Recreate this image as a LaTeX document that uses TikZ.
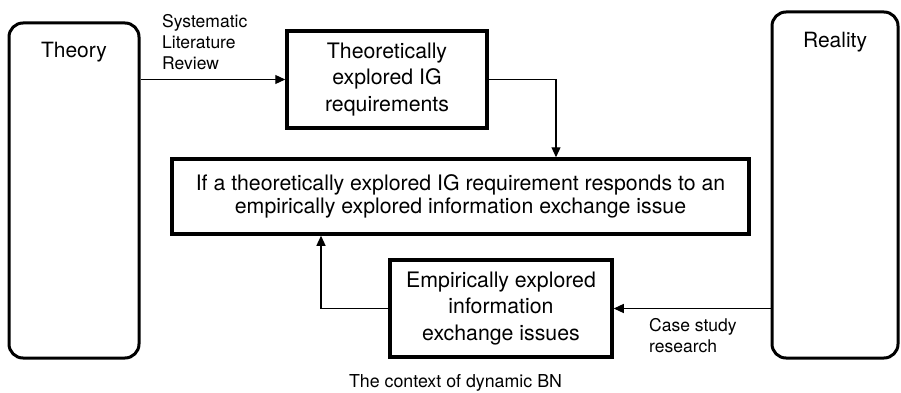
\documentclass[tikz,border=0pt]{standalone}
\usepackage{fontspec}
\setmainfont{TeX Gyre Heros}
\usetikzlibrary{arrows.meta}
\tikzset{
  world/.style={draw,line width=3pt,rounded corners=14pt,inner sep=0pt},
  stepbox/.style={draw,line width=3.5pt,align=center,inner sep=0pt,font=\fontsize{21.3}{26.5}\selectfont},
  flow/.style={line width=1.2pt,-{Triangle[length=10pt,width=9pt]}},
  note/.style={align=left,inner sep=0pt,font=\fontsize{17.5}{21}\selectfont}
}
\begin{document}
\begin{tikzpicture}[x=1pt,y=-1pt]
\useasboundingbox (0,0) rectangle (901,393);
\node[world,minimum width=130pt,minimum height=335pt,
  label={[anchor=north,yshift=-17pt,font=\fontsize{21}{24}\selectfont]north:Theory}] (theory) at (74,190.5) {};
\node[world,minimum width=126pt,minimum height=346pt,
  label={[anchor=north,yshift=-18pt,font=\fontsize{21}{24}\selectfont]north:Reality}] (reality) at (835,185) {};
\node[stepbox,minimum width=200pt,minimum height=97pt] (theo) at (387,79.5)
  {Theoretically\\explored IG\\requirements};
\node[stepbox,minimum width=577pt,minimum height=75pt,font=\fontsize{21.3}{22.5}\selectfont] (match) at (460.5,196.5)
  {If a theoretically explored IG requirement responds to an\\empirically explored information exchange issue};
\node[stepbox,minimum width=222pt,minimum height=97pt] (emp) at (501,308.5)
  {Empirically explored\\information\\exchange issues};
% connectors
\draw[flow] (theory.east |- theo.west) -- (theo.west);
\draw[flow] (theo.east) -| ([xshift=95.5pt]match.north);
\draw[flow] (reality.west |- emp.east) -- (emp.east);
\draw[flow] (emp.west) -| ([xshift=-139.5pt]match.south);
% labels
\node[note,anchor=north west] (slr) at (162,14) {Systematic\\Literature\\Review};
\node[note,anchor=north west] (csr) at (649,318) {Case study\\research};
\node[note,anchor=base,font=\fontsize{17.8}{21}\selectfont] (ctx) at (455.5,387) {The context of dynamic BN};
\end{tikzpicture}
\end{document}
